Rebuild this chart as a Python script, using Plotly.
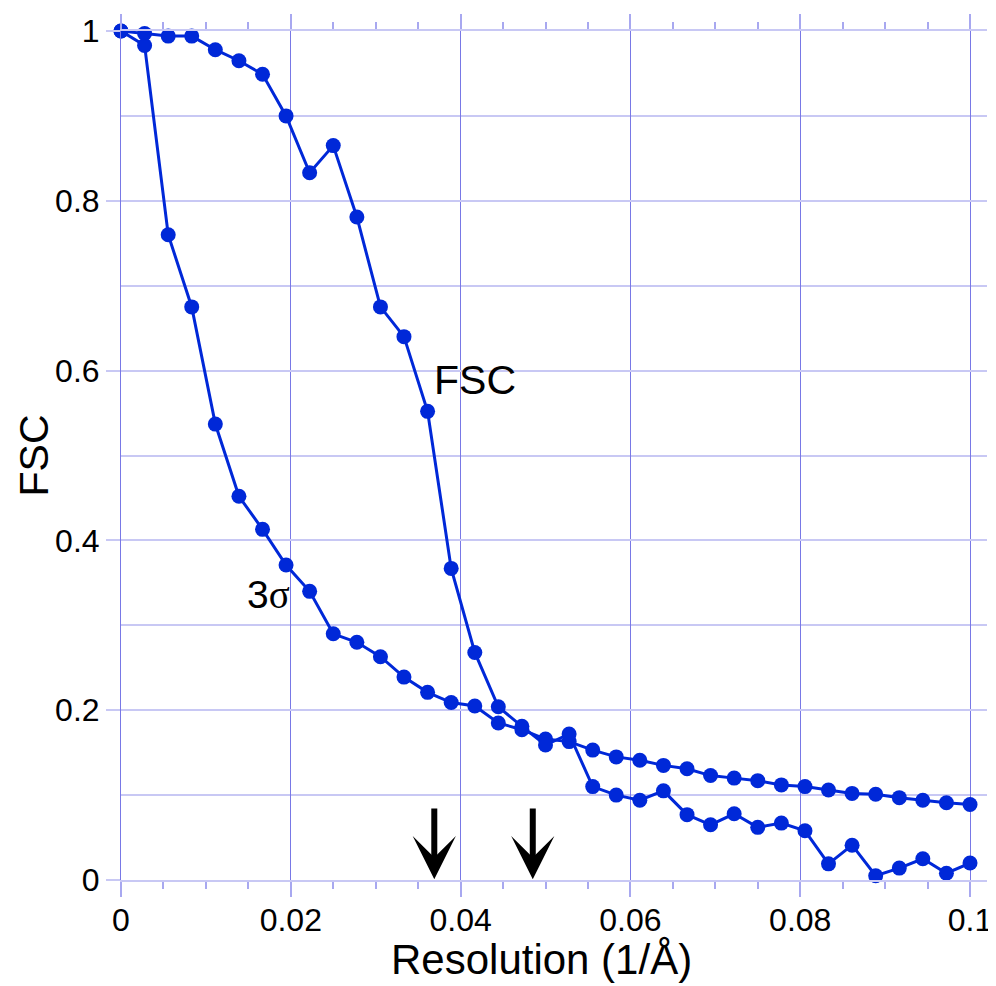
import plotly.graph_objects as go

resolution = [0, 0.00278, 0.00556, 0.00833, 0.01111, 0.01389, 0.01667, 0.01944, 0.02222, 0.025,
              0.02778, 0.03056, 0.03333, 0.03611, 0.03889, 0.04167, 0.04444, 0.04722, 0.05, 0.05278,
              0.05556, 0.05833, 0.06111, 0.06389, 0.06667, 0.06944, 0.07222, 0.075, 0.07778, 0.08056,
              0.08333, 0.08611, 0.08889, 0.09167, 0.09444, 0.09722, 0.1]

fsc = [1.0, 0.997, 0.994, 0.994, 0.978, 0.965, 0.949, 0.900, 0.833, 0.865,
       0.781, 0.675, 0.640, 0.552, 0.367, 0.268, 0.204, 0.181, 0.159, 0.172,
       0.110, 0.100, 0.094, 0.105, 0.077, 0.065, 0.078, 0.062, 0.067, 0.058,
       0.019, 0.041, 0.005, 0.014, 0.025, 0.008, 0.020]

three_sigma = [1.0, 0.983, 0.760, 0.675, 0.537, 0.452, 0.413, 0.371, 0.340, 0.290,
               0.280, 0.263, 0.239, 0.221, 0.209, 0.205, 0.185, 0.177, 0.166, 0.163,
               0.153, 0.145, 0.141, 0.135, 0.131, 0.123, 0.120, 0.117, 0.112, 0.110,
               0.106, 0.102, 0.101, 0.097, 0.094, 0.091, 0.089]

arrow_x = [0.0369, 0.0485]

BLUE = "#0028d8"
VGRID = "#7878e6"
HGRID = "#c8c8f4"
TICKC = "#a8a8f0"
FONT = "Liberation Sans, Arial, sans-serif"

fig = go.Figure()
for ys in (three_sigma, fsc):
    fig.add_trace(go.Scatter(
        x=resolution, y=ys, mode="lines+markers",
        line=dict(color=BLUE, width=3),
        marker=dict(color=BLUE, size=15),
        cliponaxis=False, showlegend=False,
    ))

annotations = [
    dict(x=0.0366, y=0.589, xref="x", yref="y", text="FSC", showarrow=False,
         xanchor="left", yanchor="middle", font=dict(family=FONT, size=41, color="black")),
    dict(x=0.0146, y=0.336, xref="x", yref="y",
         text="3<span style='font-family:Liberation Serif, Times New Roman, serif'>σ</span>",
         showarrow=False, xanchor="left", yanchor="middle",
         font=dict(family=FONT, size=39, color="black")),
    dict(x=0.485, y=-0.094, xref="paper", yref="paper", text="Resolution (1/Å)",
         showarrow=False, xanchor="center", yanchor="middle",
         font=dict(family=FONT, size=42, color="black")),
    dict(x=-0.1016, y=0.5, xref="paper", yref="paper", text="FSC", textangle=-90,
         showarrow=False, xanchor="center", yanchor="middle",
         font=dict(family=FONT, size=41, color="black")),
]
for ax_ in arrow_x:
    annotations.append(dict(
        x=ax_, y=0.001, xref="x", yref="y", ax=ax_, ay=0.086, axref="x", ayref="y",
        text="", showarrow=True, arrowhead=3, arrowwidth=6, arrowsize=1.2,
        arrowcolor="black", standoff=0,
    ))

fig.update_layout(
    width=988, height=978,
    margin=dict(l=113, r=9, t=23, b=106, autoexpand=False),
    paper_bgcolor="white", plot_bgcolor="white",
    font=dict(family=FONT, size=32, color="black"),
    annotations=annotations,
    xaxis=dict(
        range=[0, 0.102], tick0=0, dtick=0.02, automargin=False,
        showgrid=True, gridcolor=VGRID, gridwidth=1,
        ticks="outside", ticklen=15, tickcolor=TICKC, tickwidth=1.5,
        minor=dict(dtick=0.005, tick0=0, ticks="outside", ticklen=7,
                   tickcolor=TICKC, tickwidth=1.5, showgrid=False),
        showline=True, linecolor=HGRID, linewidth=2, mirror="ticks",
        zeroline=False, tickfont=dict(size=32), ticklabelstandoff=-4,
    ),
    yaxis=dict(
        range=[0, 1], tick0=0, dtick=0.2, automargin=False,
        showgrid=True, gridcolor=HGRID, gridwidth=2,
        ticks="outside", ticklen=14, tickcolor=HGRID, tickwidth=2,
        minor=dict(dtick=0.1, tick0=0, showgrid=True, gridcolor=HGRID, gridwidth=2, ticks=""),
        showline=True, linecolor=VGRID, linewidth=1, mirror=False,
        zeroline=False, tickfont=dict(size=32),
    ),
)

fig.write_html("out.html")
